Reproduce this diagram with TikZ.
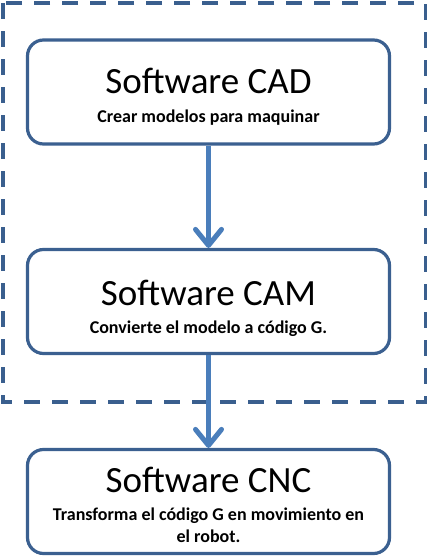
\documentclass[tikz,border=0pt]{standalone}
\usepackage{fontspec}
\setmainfont{Carlito}
\usetikzlibrary{arrows.meta}
\definecolor{boxblue}{HTML}{3B6090}
\definecolor{dashblue}{HTML}{3A5F8E}
\definecolor{arrowblue}{HTML}{4A7EBB}
\tikzset{
  stepbox/.style={draw=boxblue, line width=3.2pt, rounded corners=16pt, fill=white,
    minimum width=362pt, minimum height=104pt, inner sep=0pt},
  titletext/.style={anchor=base, inner sep=0pt, font=\fontsize{37}{40}\selectfont},
  subtext/.style={anchor=base, inner sep=0pt, font=\bfseries\fontsize{18}{22}\selectfont},
  flow/.style={draw=arrowblue, line width=5pt,
    -{Straight Barb[length=16pt,width=26pt,line cap=round,line join=round]}},
  groupbox/.style={draw=dashblue, line width=3.5pt, dash pattern=on 16pt off 12pt}
}
\begin{document}
\begin{tikzpicture}[x=1pt,y=-1pt]
\useasboundingbox (0,0) rectangle (428,557);
\coordinate (g1) at (3,3);
\coordinate (g2) at (425.5,402);
\draw[groupbox] (g1) rectangle (g2);
\node[stepbox] (cad) at (208.5,92) {};
\node[stepbox] (cam) at (208.5,301.5) {};
\node[stepbox] (cnc) at (208.5,501.5) {};
\node[titletext] (cadt) at (208.5,93) {Software CAD};
\node[subtext] (cads) at (208.5,122) {Crear modelos para maquinar};
\node[titletext] (camt) at (208.5,305) {Software CAM};
\node[subtext] (cams) at (208.5,333) {Convierte el modelo a código G.};
\node[titletext] (cnct) at (208.5,492) {Software CNC};
\node[subtext] (cncs1) at (208.5,520) {Transforma el código G en movimiento en};
\node[subtext] (cncs2) at (208.5,542) {el robot.};
\draw[flow] (cad.south) -- (cam.north);
\draw[flow] (cam.south) -- (cnc.north);
\end{tikzpicture}
\end{document}
